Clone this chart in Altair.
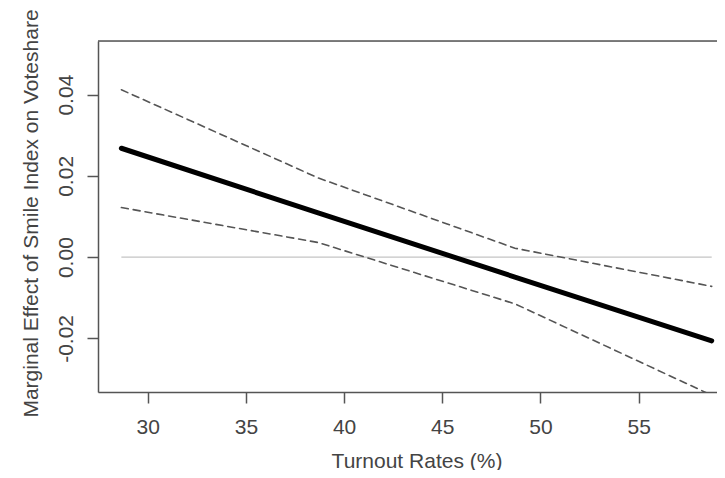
import altair as alt
import pandas as pd

# values
turnout = [28.66, 38.68, 48.70, 58.72]
effect = [0.0268, 0.0109, -0.0049, -0.0206]
upper = [0.0412, 0.0195, 0.0022, -0.0072]
lower = [0.0122, 0.0036, -0.0115, -0.0340]
x_ticks = [30, 35, 40, 45, 50, 55]
y_ticks = [-0.02, 0.00, 0.02, 0.04]

df = pd.DataFrame({"turnout": turnout, "effect": effect, "upper": upper, "lower": lower})
zero_df = pd.DataFrame({"x": [turnout[0]], "x2": [turnout[-1]], "y": [0.0]})

W, H = 619, 351
FONT = "Liberation Sans"

xscale = alt.Scale(domain=[27.47, 58.99], nice=False, zero=False)
yscale = alt.Scale(domain=[-0.0332, 0.0532], nice=False, zero=False)

xaxis = alt.Axis(values=x_ticks, format="d", title="Turnout Rates (%)", grid=False,
                 tickSize=11, tickWidth=1.5, tickColor="#555", domainColor="#555", domainWidth=1.5,
                 labelFont=FONT, labelFontSize=21, labelColor="#444", labelPadding=13,
                 titleFont=FONT, titleFontSize=21, titleColor="#444", titleFontWeight="normal",
                 titleX=318.5, titleY=75, titleBaseline="alphabetic", titleAlign="center")
yaxis = alt.Axis(values=y_ticks, title="Marginal Effect of Smile Index on Voteshare", grid=False,
                 labelExpr="datum.value < 0 ? '-' + format(-datum.value, '.2f') : format(datum.value, '.2f')",
                 tickSize=11, tickWidth=1.5, tickColor="#555", domainColor="#555", domainWidth=1.5,
                 labelFont=FONT, labelFontSize=21, labelColor="#444", labelPadding=15,
                 labelAngle=270, labelAlign="center", labelBaseline="alphabetic",
                 titleFont=FONT, titleFontSize=21, titleColor="#444", titleFontWeight="normal",
                 titleX=-61, titleY=172, titleAngle=270, titleBaseline="alphabetic", titleAlign="center")

base = alt.Chart(df)

zero = alt.Chart(zero_df).mark_rule(color="#c4c4c4", strokeWidth=1.2).encode(
    x=alt.X("x:Q", scale=xscale, axis=xaxis),
    x2="x2:Q",
    y=alt.Y("y:Q", scale=yscale, axis=yaxis),
)

up = base.mark_line(color="#555", strokeWidth=1.6, strokeDash=[7, 5], strokeCap="round", clip=True).encode(
    x=alt.X("turnout:Q", scale=xscale), y=alt.Y("upper:Q", scale=yscale))
lo = base.mark_line(color="#555", strokeWidth=1.6, strokeDash=[7, 5], strokeCap="round", clip=True).encode(
    x=alt.X("turnout:Q", scale=xscale), y=alt.Y("lower:Q", scale=yscale))
main = base.mark_line(color="black", strokeWidth=5, strokeCap="round", clip=True).encode(
    x=alt.X("turnout:Q", scale=xscale), y=alt.Y("effect:Q", scale=yscale))

top = alt.Chart(zero_df).mark_rule(color="#555", strokeWidth=1.5).encode(
    x=alt.value(0), x2=alt.value(W), y=alt.value(0))

chart = alt.layer(zero, up, lo, main, top).properties(
    width=W, height=H,
    padding={"left": 90, "top": 33, "right": 0, "bottom": 78},
    autosize=alt.AutoSizeParams(type="none"),
).configure_view(stroke=None).configure(background="white")

chart.save("out.html", embed_options={"renderer": "svg", "actions": False})
